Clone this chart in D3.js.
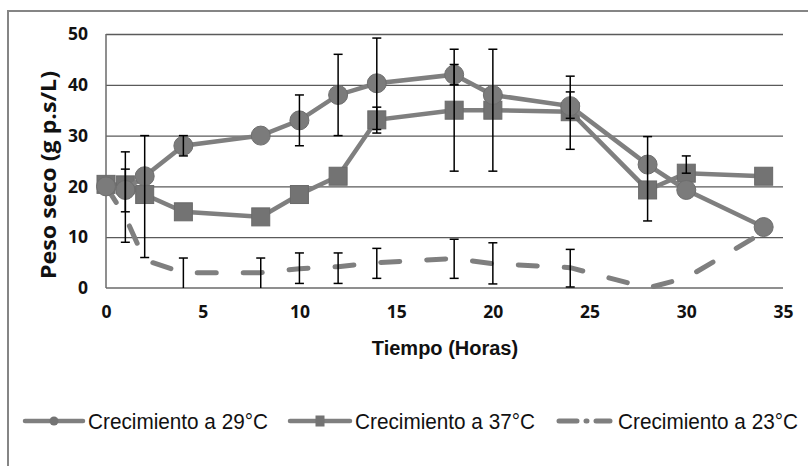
<!DOCTYPE html>
<html><head><meta charset="utf-8">
<script src="https://cdn.jsdelivr.net/npm/d3@7"></script>
<style>body{margin:0;background:#fff;} svg{display:block;}</style>
</head><body>
<svg id="chart" width="808" height="466"></svg>
<script>
const hours = [0, 1, 2, 4, 8, 10, 12, 14, 18, 20, 24, 28, 30, 34];
const c29 = [20, 19.3, 22, 28, 30, 33, 38, 40.3, 42, 38, 35.8, 24.3, 19.3, 12];
const c37 = [20.4, 20.3, 18.4, 15, 14, 18.4, 22, 33.1, 35, 35, 34.7, 19.3, 22.6, 22];
const c23 = [20, 14, 5.5, 3, 3, 3.8, 4.2, 5, 5.8, 4.8, 4, 0, 2, 11];
// error bar bounds [low, high] (null = none)
const err29 = [null, [15, 23.4], null, [26, 30], null, [28, 38], [30, 46], [31.2, 49.2], [40, 44], null, [33.4, 38.6], [13.2, 29.8], null, null];
const err37 = [null, [9, 26.8], [6, 30], null, null, null, null, [30.5, 35.6], [23, 47], [23, 47], [27.3, 41.7], null, [22.6, 26], null];
const err23 = [null, null, null, [0, 5.9], [0, 5.9], [0.9, 6.9], [0.9, 6.9], [1.9, 7.8], [1.9, 9.6], [0.8, 8.9], [0.2, 7.6], null, null, null];
const xTicks = [0, 5, 10, 15, 20, 25, 30, 35];
const yTicks = [0, 10, 20, 30, 40, 50];
const seriesNames = ["Crecimiento a 29°C", "Crecimiento a 37°C", "Crecimiento a 23°C"];

const svg = d3.select("#chart");
const x = d3.scaleLinear().domain([0, 35]).range([106, 783]);
const y = d3.scaleLinear().domain([0, 50]).range([288, 34]);
const lineCol = "#7f7f7f", markCol = "#737373";

// outer frame
svg.append("rect").attr("x", 8).attr("y", 11).attr("width", 820).attr("height", 480)
  .attr("fill", "none").attr("stroke", "#858585").attr("stroke-width", 2);

// gridlines
svg.append("g").attr("transform", "translate(106,0)")
  .call(d3.axisLeft(y).tickValues(yTicks.slice(1)).tickSize(-(783 - 106)).tickFormat(""))
  .call(g => g.select(".domain").remove())
  .call(g => g.selectAll("line").attr("stroke", "#5a5a5a").attr("stroke-width", 1.3));
// axes lines
svg.append("line").attr("x1", 106).attr("x2", 783).attr("y1", y(0)).attr("y2", y(0)).attr("stroke", "#6a6a6a").attr("stroke-width", 1.5);
svg.append("line").attr("x1", 106).attr("x2", 106).attr("y1", y(0)).attr("y2", y(50)).attr("stroke", "#6a6a6a").attr("stroke-width", 1.5);

// tick labels
svg.append("g").attr("transform", "translate(88,0)")
  .call(d3.axisLeft(y).tickValues(yTicks).tickSize(0).tickPadding(0))
  .call(g => g.select(".domain").remove())
  .call(g => g.selectAll("text").attr("font-family", "Open Sans").attr("font-weight", 700)
    .attr("font-size", 17.5).attr("fill", "#111"));
svg.append("g").attr("transform", "translate(0,306)")
  .call(d3.axisBottom(x).tickValues(xTicks).tickSize(0).tickPadding(0))
  .call(g => g.select(".domain").remove())
  .call(g => g.selectAll("text").attr("font-family", "Open Sans").attr("font-weight", 700)
    .attr("font-size", 17.5).attr("fill", "#111"));

// axis titles
svg.append("text").attr("x", 445).attr("y", 355).attr("text-anchor", "middle")
  .attr("font-family", "Liberation Sans").attr("font-weight", 700).attr("font-size", 20)
  .attr("fill", "#111").text("Tiempo (Horas)");
svg.append("text").attr("transform", "translate(56,175) rotate(-90)").attr("text-anchor", "middle")
  .attr("font-family", "Open Sans").attr("font-weight", 700).attr("font-size", 21)
  .attr("textLength", 208).attr("lengthAdjust", "spacingAndGlyphs")
  .attr("fill", "#111").text("Peso seco (g p.s/L)");

const line = d3.line().x(d => x(d[0])).y(d => y(d[1]));
const pts = arr => hours.map((h, i) => [h, arr[i]]);

// 23 dashed
svg.append("path").attr("d", line(pts(c23))).attr("fill", "none").attr("stroke", lineCol)
  .attr("stroke-width", 5).attr("stroke-linecap", "round").attr("stroke-dasharray", "19,27");
// 37
svg.append("path").attr("d", line(pts(c37))).attr("fill", "none").attr("stroke", lineCol).attr("stroke-width", 4.5);
svg.selectAll(".sq").data(pts(c37)).enter().append("rect")
  .attr("x", d => x(d[0]) - 9).attr("y", d => y(d[1]) - 9).attr("width", 18).attr("height", 18)
  .attr("fill", markCol).attr("stroke", "#6a6a6a").attr("stroke-width", 1);
// 29
svg.append("path").attr("d", line(pts(c29))).attr("fill", "none").attr("stroke", lineCol).attr("stroke-width", 4.5);
svg.selectAll(".ci").data(pts(c29)).enter().append("circle")
  .attr("cx", d => x(d[0])).attr("cy", d => y(d[1])).attr("r", 9.5)
  .attr("fill", "#7b7b7b").attr("stroke", "#6e6e6e").attr("stroke-width", 1);

// error bars
function errBars(errs) {
  const data = hours.map((h, i) => [h, errs[i]]).filter(d => d[1]);
  const g = svg.append("g").attr("stroke", "#000").attr("stroke-width", 1.5);
  data.forEach(d => {
    const cx = x(d[0]);
    g.append("line").attr("x1", cx).attr("x2", cx).attr("y1", y(d[1][0])).attr("y2", y(d[1][1]));
    [d[1][0], d[1][1]].forEach(v => {
      if (v > 0) g.append("line").attr("x1", cx - 4.5).attr("x2", cx + 4.5).attr("y1", y(v)).attr("y2", y(v));
    });
  });
}
errBars(err23); errBars(err37); errBars(err29);

// legend
const ly = 421;
const lg = svg.append("g");
const legendItems = [
  {x0: 25, x1: 83, tx: 88, type: "circle"},
  {x0: 290, x1: 350, tx: 355, type: "square"},
  {x0: 556, x1: 615, tx: 618, type: "dash"}
];
legendItems.forEach((it, i) => {
  if (it.type === "dash") {
    lg.append("line").attr("x1", it.x0 + 3).attr("x2", it.x1 - 3).attr("y1", ly).attr("y2", ly)
      .attr("stroke", lineCol).attr("stroke-width", 5).attr("stroke-linecap", "round")
      .attr("stroke-dasharray", "18,9,1,9,14");
  } else {
    lg.append("line").attr("x1", it.x0).attr("x2", it.x1).attr("y1", ly).attr("y2", ly)
      .attr("stroke", lineCol).attr("stroke-width", 4.5).attr("stroke-linecap", "round");
    const cx = (it.x0 + it.x1) / 2;
    if (it.type === "circle") lg.append("circle").attr("cx", cx).attr("cy", ly).attr("r", 4.5).attr("fill", markCol);
    else lg.append("rect").attr("x", cx - 4.5).attr("y", ly - 5.5).attr("width", 9).attr("height", 11).attr("fill", markCol);
  }
  lg.append("text").attr("x", it.tx).attr("y", ly + 8).attr("font-family", "Liberation Sans")
    .attr("font-size", 22).attr("fill", "#111").attr("textLength", 180).attr("lengthAdjust", "spacingAndGlyphs")
    .text(seriesNames[i]);
});
</script>
</body></html>
